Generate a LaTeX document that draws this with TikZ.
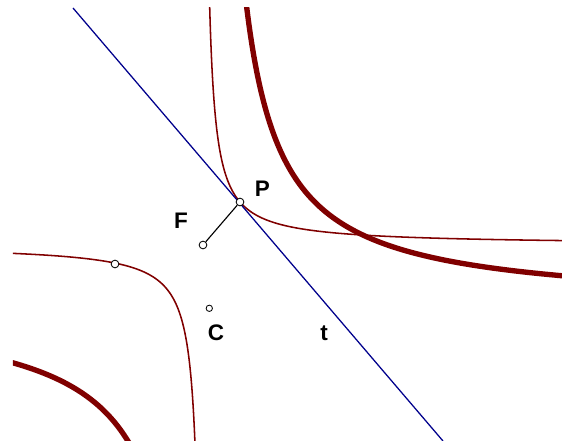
\documentclass[tikz,border=0pt]{standalone}
\usepackage{fontspec}
\setmainfont{Liberation Sans}
\usepackage{tikz}
\usetikzlibrary{calc,positioning}
\definecolor{maroon}{RGB}{128,0,0}
\definecolor{navy}{RGB}{0,0,140}

\begin{document}
\begin{tikzpicture}[every node/.style={font=\fontsize{16}{18}\selectfont\bfseries},
    dot/.style={circle,draw,fill=white,inner sep=0pt,minimum size=5.5pt,line width=0.6pt}]
      \useasboundingbox (-5.25,-3.35) rectangle (8.8,7.675);
      \begin{scope}
        \clip (-4.925,-3.35) rectangle (8.8,7.475);
        % thick hyperbola x y = 6.875
        \draw[maroon,line width=3.8pt,domain=-1.2:1.3,samples=120,smooth] plot ({2.622*exp(\x)},{2.622*exp(-\x)});
        \draw[maroon,line width=3.8pt,domain=-0.4:0.7,samples=60,smooth] plot ({-2.622*exp(\x)},{-2.622*exp(-\x)});
        % thin hyperbola round F
        \draw[maroon,line width=1.1pt,domain=-2:2.3,samples=160,smooth] plot ({-0.175+exp(\x)},{1.55+0.9944*exp(-\x)});
        \draw[maroon,line width=1.1pt,domain=-1.8:1.8,samples=140,smooth] plot ({-0.175-exp(\x)},{1.55-0.9944*exp(-\x)});
        % tangent t
        \coordinate (t1) at (-3.425,7.475);
        \coordinate (t2) at (5.825,-3.35);
        \draw[navy,line width=0.9pt] (t1) -- (t2);
      \end{scope}
      \node[dot] (P) at (0.75,2.625) {};
      \node[dot] (F) at (-0.175,1.55) {};
      \node[dot,minimum size=4.5pt] (C) at (-0.0175,-0.0325) {};
      \node[dot] (Q) at (-2.375,1.075) {};
      \draw[line width=0.8pt] (P) -- (F);
      \node (labP) at (1.3125,2.9625) {P};
      \node (labF) at (-0.725,2.1625) {F};
      \node (labC) at (0.15,-0.65) {C};
      \node (labt) at (2.85,-0.65) {t};
    \end{tikzpicture}
\end{document}
